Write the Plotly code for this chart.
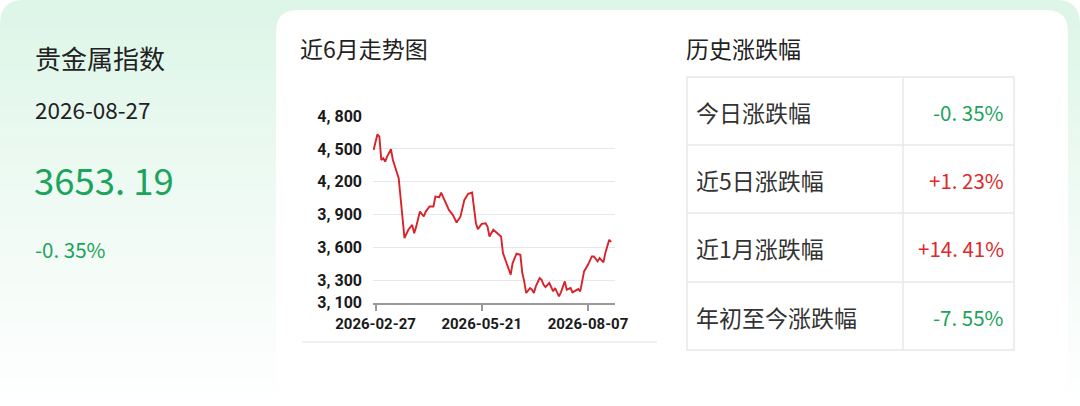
import plotly.graph_objects as go

W, H = 1080, 406

# ---- data ----
index_name = "贵金属指数"
quote_date = "2026-08-27"
last_price = "3653. 19"
day_change = "-0. 35%"

# trading-day position and close value of the 6-month trend line
day_idx = [0, 2, 3, 4, 5, 6, 7, 9, 10, 12, 13, 16, 18, 20, 21, 22, 24, 26, 27, 29,
           31, 32, 34, 35, 37, 39, 41, 43, 45, 46, 47, 49, 51, 53, 54, 56, 58, 59, 60, 62,
           64, 66, 67, 69, 71, 72, 74, 76, 77, 78, 79, 81, 82, 83, 84, 86, 87, 88, 89, 91,
           92, 93, 94, 96, 97, 99, 100, 102, 103, 106, 107, 109, 111, 113, 114, 116, 117, 119, 120, 122,
           123]
close = [4491, 4633, 4612, 4400, 4415, 4385, 4430, 4497, 4400, 4273, 4233, 3688, 3764, 3809, 3733, 3788, 3930, 3885, 3930, 3976,
         3976, 4067, 4061, 4103, 4021, 3945, 3900, 3830, 3885, 3960, 4036, 4091, 4103, 3824, 3770, 3818, 3824, 3794, 3703, 3764,
         3733, 3703, 3552, 3461, 3355, 3461, 3546, 3536, 3370, 3294, 3188, 3233, 3218, 3188, 3248, 3324, 3309, 3264, 3242, 3279,
         3233, 3203, 3233, 3158, 3194, 3294, 3218, 3233, 3194, 3224, 3203, 3385, 3445, 3521, 3521, 3476, 3506, 3467, 3552, 3673,
         3653]

x_tick_pos = [1, 56, 111]
x_tick_text = ["2026-02-27", "2026-05-21", "2026-08-07"]
y_tick_vals = [3100, 3300, 3600, 3900, 4200, 4500, 4800]
y_tick_text = ["3, 100", "3, 300", "3, 600", "3, 900", "4, 200", "4, 500", "4, 800"]

row_labels = ["今日涨跌幅", "近5日涨跌幅", "近1月涨跌幅", "年初至今涨跌幅"]
row_values = ["-0. 35%", "+1. 23%", "+14. 41%", "-7. 55%"]

GREEN = "#1ca35c"
RED = "#dc2a2c"
CJK = "Noto Sans CJK SC"


def X(px):
    return px / W


def Y(py):
    return 1 - py / H


def rrect(x0, y0, x1, y1, r):
    p = [("M", x0 + r, y0), ("L", x1 - r, y0), ("Q", x1, y0, x1, y0 + r),
         ("L", x1, y1 - r), ("Q", x1, y1, x1 - r, y1), ("L", x0 + r, y1),
         ("Q", x0, y1, x0, y1 - r), ("L", x0, y0 + r), ("Q", x0, y0, x0 + r, y0)]
    s = ""
    for seg in p:
        cmd, pts = seg[0], seg[1:]
        s += cmd + " " + " ".join("%.5f,%.5f" % (X(pts[i]), Y(pts[i + 1])) for i in range(0, len(pts), 2)) + " "
    return s + "Z"


shapes = []

# mint background, fading to white towards the bottom
n_bands = 30
for i in range(n_bands):
    t = (i / (n_bands - 1)) ** 0.9
    c = (int(221 + 34 * t), int(246 + 9 * t), int(232 + 23 * t))
    shapes.append(dict(type="rect", xref="paper", yref="paper", layer="below",
                       x0=0, x1=1, y0=Y(i * H / n_bands + H / n_bands + 0.5), y1=Y(i * H / n_bands),
                       fillcolor="rgb(%d,%d,%d)" % c, line=dict(width=0)))

# rounded outer corners
r = 24
for (cx, cy, dx, dy) in [(0, 0, 1, 1), (W, 0, -1, 1), (0, H, 1, -1), (W, H, -1, -1)]:
    path = "M %.5f,%.5f L %.5f,%.5f Q %.5f,%.5f %.5f,%.5f Z" % (
        X(cx), Y(cy), X(cx + dx * r), Y(cy), X(cx), Y(cy), X(cx), Y(cy + dy * r))
    shapes.append(dict(type="path", xref="paper", yref="paper", layer="below", path=path,
                       fillcolor="white", line=dict(width=0)))

# white card
shapes.append(dict(type="path", xref="paper", yref="paper", layer="below",
                   path=rrect(276, 10, 1068, 398, 22), fillcolor="white", line=dict(width=0)))

# separator under the chart
shapes.append(dict(type="line", xref="paper", yref="paper", x0=X(302), x1=X(657), y0=Y(342), y1=Y(342),
                   line=dict(color="#e3e3e3", width=1.2)))

# table grid
tx0, tx1, tmid = 687, 1014, 903
row_edges = [77, 145, 213, 282, 350]
line_c = dict(color="#e8e8e8", width=1.5)
shapes.append(dict(type="rect", xref="paper", yref="paper", x0=X(tx0), x1=X(tx1),
                   y0=Y(row_edges[-1]), y1=Y(row_edges[0]), line=line_c))
for e in row_edges[1:-1]:
    shapes.append(dict(type="line", xref="paper", yref="paper", x0=X(tx0), x1=X(tx1), y0=Y(e), y1=Y(e), line=line_c))
shapes.append(dict(type="line", xref="paper", yref="paper", x0=X(tmid), x1=X(tmid),
                   y0=Y(row_edges[-1]), y1=Y(row_edges[0]), line=line_c))

annotations = []


def txt(x, y, s, size, color, anchor="left", family=CJK):
    annotations.append(dict(x=X(x), y=Y(y), xref="paper", yref="paper", text=s, showarrow=False,
                            xanchor=anchor, yanchor="middle", font=dict(family=family, size=size, color=color)))


txt(33, 58, index_name, 26, "#222222")
txt(33, 109, quote_date, 22.5, "#222222")
txt(32, 179, last_price, 36.5, GREEN)
txt(33, 249, day_change, 20.5, GREEN)

txt(298, 48, "近6月走势图", 23, "#222222")
txt(684, 48, "历史涨跌幅", 23, "#222222")

for i, (lab, val) in enumerate(zip(row_labels, row_values)):
    cy = (row_edges[i] + row_edges[i + 1]) / 2 + 1
    txt(694, cy, lab, 23, "#333333")
    txt(1006, cy, val, 20.5, RED if val.startswith("+") else GREEN, anchor="right")

fig = go.Figure()
fig.add_trace(go.Scatter(x=day_idx, y=close, mode="lines", line=dict(color="#d9232a", width=1.9),
                         hoverinfo="skip", showlegend=False))

fig.update_layout(
    width=W, height=H, margin=dict(l=0, r=0, t=0, b=0, pad=0, autoexpand=False),
    paper_bgcolor="white", plot_bgcolor="rgba(0,0,0,0)",
    shapes=shapes, annotations=annotations, showlegend=False,
    xaxis=dict(domain=[X(373), X(615)], range=[-0.3, 125], showgrid=False, zeroline=False,
               automargin=False, showline=True, linecolor="#9a9a9a", linewidth=1.5,
               tickmode="array", tickvals=x_tick_pos, ticktext=x_tick_text,
               ticks="outside", ticklen=7, tickcolor="#9a9a9a", tickwidth=1.5,
               tickfont=dict(family="Roboto", size=15, color="#1a1a1a", weight=700)),
    yaxis=dict(domain=[Y(302.7), Y(116)], range=[3100, 4800], showgrid=True, gridcolor="#e5e8ef",
               gridwidth=1, zeroline=False, showline=False, ticks="", automargin=False,
               tickmode="array", tickvals=y_tick_vals, ticktext=y_tick_text, ticklabelstandoff=10,
               tickfont=dict(family="Roboto", size=16, color="#1a1a1a", weight=700)),
)

fig.write_html("out.html", config={"displayModeBar": False},
               post_script="document.body.style.margin='0px';")
